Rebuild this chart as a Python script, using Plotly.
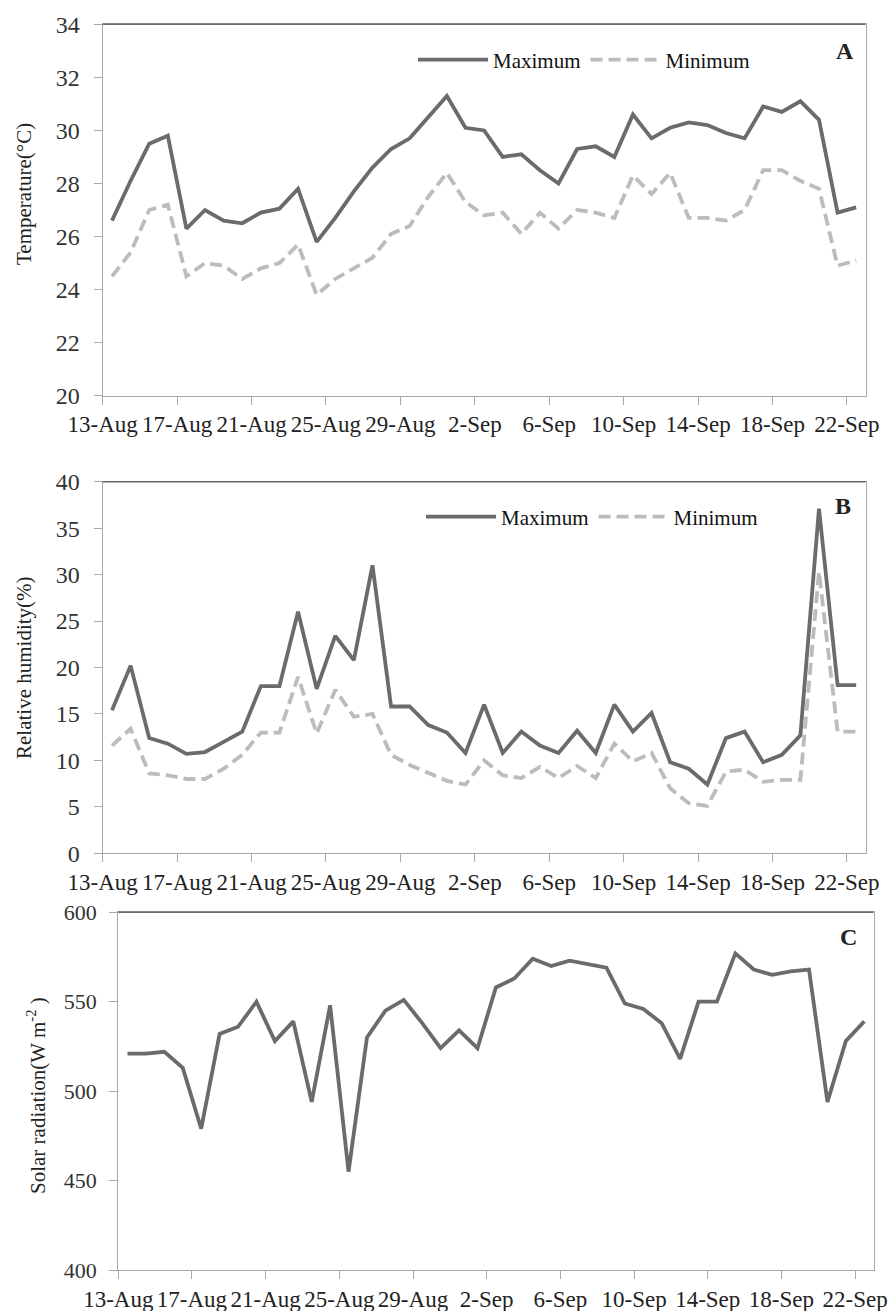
import plotly.graph_objects as go
import pandas as pd

# ---------------- data ----------------
dates = pd.date_range("2015-08-13 12:00", periods=41, freq="D")

temp_max = [26.6, 28.1, 29.5, 29.8, 26.3, 27.0, 26.6, 26.5, 26.9, 27.05, 27.8, 25.8,
            26.7, 27.7, 28.6, 29.3, 29.7, 30.5, 31.3,
            30.1, 30.0, 29.0, 29.1, 28.5, 28.0, 29.3, 29.4, 29.0, 30.6, 29.7, 30.1,
            30.3, 30.2, 29.9, 29.7, 30.9, 30.7, 31.1, 30.4, 26.9, 27.1]
temp_min = [24.5, 25.4, 27.0, 27.2, 24.5, 25.0, 24.9, 24.4, 24.8, 25.0, 25.7, 23.8,
            24.4, 24.8, 25.2, 26.1, 26.4, 27.5, 28.4,
            27.3, 26.8, 26.9, 26.1, 26.9, 26.3, 27.0, 26.9, 26.7, 28.3, 27.6, 28.4,
            26.7, 26.7, 26.6, 27.0, 28.5, 28.5, 28.1, 27.8, 24.9, 25.1]
rh_max = [15.4, 20.2, 12.4, 11.8, 10.7, 10.9, 12.0, 13.1, 18.0, 18.0, 26.0, 17.7,
          23.4, 20.8, 31.0, 15.8, 15.8, 13.8, 13.0,
          10.8, 16.0, 10.8, 13.1, 11.6, 10.8, 13.2, 10.8, 16.0, 13.1, 15.1, 9.8,
          9.1, 7.4, 12.4, 13.1, 9.8, 10.6, 12.7, 37.1, 18.1, 18.1]
rh_min = [11.6, 13.4, 8.6, 8.4, 8.0, 8.0, 9.1, 10.6, 13.0, 13.0, 19.0, 12.9,
          17.6, 14.7, 15.0, 10.6, 9.5, 8.6, 7.8,
          7.4, 10.0, 8.4, 8.1, 9.3, 8.1, 9.4, 8.1, 11.8, 9.9, 10.8, 7.0,
          5.4, 5.1, 8.8, 9.0, 7.7, 7.9, 7.9, 30.3, 13.1, 13.1]
solar = [521, 521, 522, 513, 479, 532, 536, 550, 528, 539, 494, 548, 455, 530,
         545, 551, 538, 524,
         534, 524, 558, 563, 574, 570, 573, 571, 569, 549, 546, 538, 518, 550,
         550, 577, 568, 565, 567, 568, 494, 528, 539]

series_names = ["Maximum", "Minimum"]
panel_labels = ["A", "B", "C"]
y_titles = ["Temperature(°C)", "Relative humidity(%)", "Solar radiation(W m<sup>-2</sup> )"]

# ---------------- style ----------------
W, H = 891, 1311
SERIF = "Liberation Serif"
MAX_COL = "#6b6b6b"
MIN_COL = "#bcbcbc"
AX_COL = "#a8a8a8"

def px_x(v):
    return v / W

def px_y(v):
    return 1 - v / H

fig = go.Figure()

# Panel A
fig.add_trace(go.Scatter(x=dates, y=temp_max, mode="lines", name=series_names[0],
                         line=dict(color=MAX_COL, width=3.8), xaxis="x", yaxis="y",
                         legend="legend"))
fig.add_trace(go.Scatter(x=dates, y=temp_min, mode="lines", name=series_names[1],
                         line=dict(color=MIN_COL, width=3.8, dash="12px,6px"),
                         xaxis="x", yaxis="y", legend="legend"))
# Panel B
fig.add_trace(go.Scatter(x=dates, y=rh_max, mode="lines", name=series_names[0],
                         line=dict(color=MAX_COL, width=3.8), xaxis="x2", yaxis="y2",
                         legend="legend2"))
fig.add_trace(go.Scatter(x=dates, y=rh_min, mode="lines", name=series_names[1],
                         line=dict(color=MIN_COL, width=3.8, dash="12px,6px"),
                         xaxis="x2", yaxis="y2", legend="legend2"))
# Panel C
fig.add_trace(go.Scatter(x=dates, y=solar, mode="lines", name="Solar radiation",
                         line=dict(color=MAX_COL, width=3.8), xaxis="x3", yaxis="y3",
                         showlegend=False))

x_range = ["2015-08-13 00:00", "2015-09-23 00:00"]
common_x = dict(type="date", range=x_range, tick0="2015-08-13", dtick=4 * 86400000,
                tickformat="%-d-%b", showline=True, linecolor=AX_COL, linewidth=1.2,
                mirror=True, ticks="outside", ticklen=8, tickcolor=AX_COL,
                showgrid=False, zeroline=False, automargin=False,
                tickfont=dict(family=SERIF, size=23, color="#222222"))
common_y = dict(showline=True, linecolor=AX_COL, linewidth=1.2, mirror=True,
                ticks="outside", ticklen=8, tickcolor=AX_COL, showgrid=False,
                zeroline=False, automargin=False)

domA_x = [px_x(102.7), px_x(865.5)]
domC_x = [px_x(118.3), px_x(873.5)]
domA_y = [px_y(395.7), px_y(24.3)]
domB_y = [px_y(853.3), px_y(481.7)]
domC_y = [px_y(1270), px_y(912.3)]

fig.update_layout(
    width=W, height=H,
    margin=dict(l=0, r=0, t=0, b=0, autoexpand=False),
    paper_bgcolor="white", plot_bgcolor="white",
    font=dict(family=SERIF),
    xaxis=dict(common_x, domain=domA_x, anchor="y"),
    yaxis=dict(common_y, domain=domA_y, anchor="x", range=[20, 34], dtick=2,
               ticklabelstandoff=9,
               tickfont=dict(family=SERIF, size=24, color="#333333")),
    xaxis2=dict(common_x, domain=domA_x, anchor="y2"),
    yaxis2=dict(common_y, domain=domB_y, anchor="x2", range=[0, 40], dtick=5,
                ticklabelstandoff=9,
                tickfont=dict(family=SERIF, size=24, color="#333333")),
    xaxis3=dict(common_x, domain=domC_x, anchor="y3"),
    yaxis3=dict(common_y, domain=domC_y, anchor="x3", range=[400, 600], dtick=50,
                ticklabelstandoff=8,
                tickfont=dict(family=SERIF, size=22, color="#333333")),
    legend=dict(orientation="h", x=px_x(413), y=px_y(60), xanchor="left",
                yanchor="middle", font=dict(family=SERIF, size=21, color="#111111"),
                bgcolor="rgba(0,0,0,0)", itemwidth=70, tracegroupgap=0),
    legend2=dict(orientation="h", x=px_x(421), y=px_y(517), xanchor="left",
                 yanchor="middle", font=dict(family=SERIF, size=21, color="#111111"),
                 bgcolor="rgba(0,0,0,0)", itemwidth=70, tracegroupgap=0),
    showlegend=True,
)

# darker top borders
for xa, ya in [("x", "y"), ("x2", "y2"), ("x3", "y3")]:
    fig.add_shape(type="line", xref=f"{xa} domain", yref=f"{ya} domain",
                  x0=0, x1=1, y0=1, y1=1, line=dict(color="#666666", width=1.5))

# panel letters
for lab, (cx, cy) in zip(panel_labels, [(845, 51), (843, 506), (848, 937)]):
    fig.add_annotation(text=f"<b>{lab}</b>", x=px_x(cx), y=px_y(cy), xref="paper",
                       yref="paper", showarrow=False, xanchor="center", yanchor="middle",
                       font=dict(family=SERIF, size=24, color="#222222"))

# axis titles
for t, (cx, cy) in zip(y_titles, [(24, 194), (24, 668), (36, 1096)]):
    fig.add_annotation(text=t, x=px_x(cx), y=px_y(cy), xref="paper", yref="paper",
                       showarrow=False, textangle=-90, xanchor="center",
                       yanchor="middle",
                       font=dict(family=SERIF, size=21, color="#222222"))

fig.write_html("out.html",
               config={"displayModeBar": False},
               post_script="document.body.style.margin='0';"
                           "document.body.style.overflow='hidden';")
